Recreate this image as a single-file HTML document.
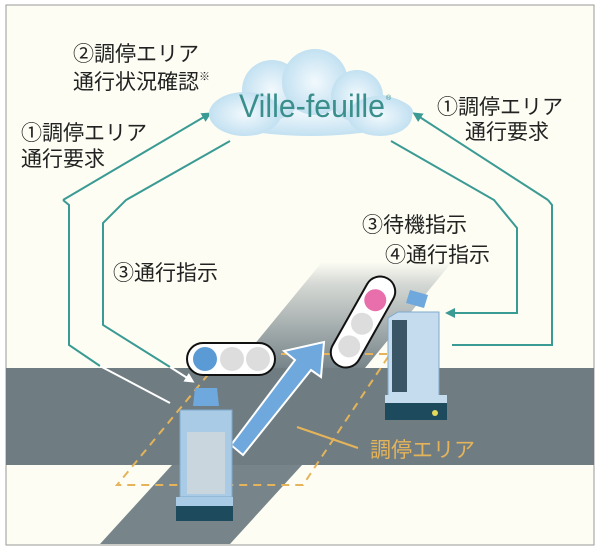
<!DOCTYPE html>
<html><head><meta charset="utf-8"><style>
html,body{margin:0;padding:0;background:#fff;}
svg{display:block}
text{font-family:"Liberation Sans","Noto Sans CJK JP",sans-serif;}
</style></head><body>
<svg width="600" height="550" viewBox="0 0 600 550" xmlns="http://www.w3.org/2000/svg">
<defs>
<linearGradient id="dg" x1="0" y1="0" x2="0" y2="1">
<stop offset="0" stop-color="#fdfdf3"/>
<stop offset="0.2" stop-color="#d6d9d5"/>
<stop offset="1" stop-color="#77858a"/>
</linearGradient>
<radialGradient id="cg" cx="0.5" cy="0.5" r="0.6">
<stop offset="0" stop-color="#f2f9fd"/>
<stop offset="1" stop-color="#b9dcef"/>
</radialGradient>
<marker id="ah" markerWidth="10" markerHeight="10" refX="7" refY="5" orient="auto" markerUnits="userSpaceOnUse">
<path d="M0,0 L10,5 L0,10 Z" fill="#3a9a94"/></marker>
<marker id="aw" markerWidth="10" markerHeight="10" refX="7" refY="5" orient="auto" markerUnits="userSpaceOnUse">
<path d="M0,0 L10,5 L0,10 Z" fill="#fff"/></marker>
</defs>
<rect x="0" y="0" width="600" height="550" fill="#fff"/>
<rect x="6" y="5" width="588" height="540" fill="#fdfdf3" stroke="#999" stroke-width="1"/>
<!-- diagonal road upper -->
<polygon points="322,262 452,262 365,368 235,368" fill="url(#dg)"/>
<rect x="6" y="368" width="588" height="97" fill="#6f7d82"/>
<polygon points="100,544 230,544 302,465 172,465" fill="#77858a"/>
<!-- dashed area -->
<polygon points="225,354 390,354 303,485 117,485" fill="none" stroke="#e5b35a" stroke-width="2" stroke-dasharray="8,6"/>
<line x1="297" y1="427" x2="358" y2="448" stroke="#e5b35a" stroke-width="2"/>
<text x="370" y="457" font-size="21" fill="#e5b35a">調停エリア</text>
<!-- connectors -->
<polyline points="63,200 69,205 69,345 100,366" fill="none" stroke="#3a9a94" stroke-width="2"/>
<line x1="100" y1="366" x2="170" y2="403" stroke="#fff" stroke-width="2"/>
<line x1="63" y1="200" x2="209" y2="114" stroke="#3a9a94" stroke-width="2" marker-end="url(#ah)"/>
<polyline points="230,141 126,200 103,223 103,325 170,367" fill="none" stroke="#3a9a94" stroke-width="2"/>
<line x1="170" y1="367" x2="192" y2="381" stroke="#fff" stroke-width="2" marker-end="url(#aw)"/>
<polyline points="391,141 494,200 517,228 517,313 448,313" fill="none" stroke="#3a9a94" stroke-width="2" marker-end="url(#ah)"/>
<polyline points="548,200 552,205 552,345 452,345" fill="none" stroke="#3a9a94" stroke-width="2"/>
<line x1="548" y1="200" x2="415" y2="114" stroke="#3a9a94" stroke-width="2" marker-end="url(#ah)"/>
<!-- cloud -->
<g fill="url(#cg)">
<ellipse cx="311" cy="112" rx="102" ry="24"/>
<circle cx="272" cy="90" r="30"/>
<circle cx="315" cy="82" r="33"/>
<circle cx="357" cy="96" r="26"/>
<ellipse cx="245" cy="114" rx="36" ry="22"/>
<ellipse cx="380" cy="116" rx="32" ry="20"/>
</g>
<text x="239" y="117" font-size="32" fill="#3a8f8c" textLength="146" lengthAdjust="spacingAndGlyphs">Ville-feuille</text>
<text x="386" y="100" font-size="7" fill="#3a8f8c">®</text>
<!-- labels -->
<g font-size="21" fill="#222">
<text x="73" y="61">②調停エリア</text>
<text x="73" y="89">通行状況確認<tspan font-size="11" dy="-9">※</tspan></text>
<text x="21" y="140">①調停エリア</text>
<text x="21" y="166">通行要求</text>
<text x="437" y="114">①調停エリア</text>
<text x="465" y="139">通行要求</text>
<text x="113" y="280">③通行指示</text>
<text x="362" y="232">③待機指示</text>
<text x="385" y="262">④通行指示</text>
</g>
<!-- blue arrow -->
<polygon points="243,455 311,370 321,377 324,342 284,351 295,360 231,445" fill="#6fa8dc" stroke="#fff" stroke-width="2"/>
<!-- left traffic light -->
<rect x="187" y="343" width="88" height="32" rx="16" fill="#fff" stroke="#111" stroke-width="2"/>
<circle cx="205" cy="359" r="12" fill="#5b9bd5"/>
<circle cx="232" cy="359" r="12" fill="#ddd"/>
<circle cx="258" cy="359" r="12" fill="#ddd"/>
<!-- right traffic light -->
<g transform="translate(363,322) rotate(-60.6)">
<rect x="-50" y="-15" width="100" height="30" rx="15" fill="#fff" stroke="#111" stroke-width="2"/>
<circle cx="-28" cy="0" r="11" fill="#ddd"/>
<circle cx="-2" cy="0" r="11" fill="#ddd"/>
<circle cx="25" cy="0" r="11" fill="#e86fab"/>
</g>
<!-- left robot -->
<polygon points="195,388 217,388 219,406 193,406" fill="#6fa8dc"/>
<rect x="180" y="410" width="52" height="87" fill="#a9cbe6" stroke="#7fa9cc" stroke-width="1"/>
<rect x="187" y="432" width="38" height="62" fill="#c9d6de"/>
<rect x="176" y="497" width="57" height="9" fill="#a9cbe6"/>
<rect x="176" y="506" width="57" height="15" fill="#1e4a5e"/>
<!-- right robot -->
<polygon points="410,290 428,295 424,308 406,303" fill="#6fa8dc"/>
<polygon points="388,318 398,312 439,312 439,397 388,397" fill="#c4dcee" stroke="#7fa9cc" stroke-width="1"/>
<rect x="392" y="320" width="15" height="72" fill="#3a5566"/>
<rect x="385" y="395" width="62" height="8" fill="#c4dcee"/>
<rect x="385" y="403" width="62" height="17" fill="#1e4a5e"/>
<circle cx="435" cy="413" r="3" fill="#e5d95a"/>
</svg>
</body></html>
